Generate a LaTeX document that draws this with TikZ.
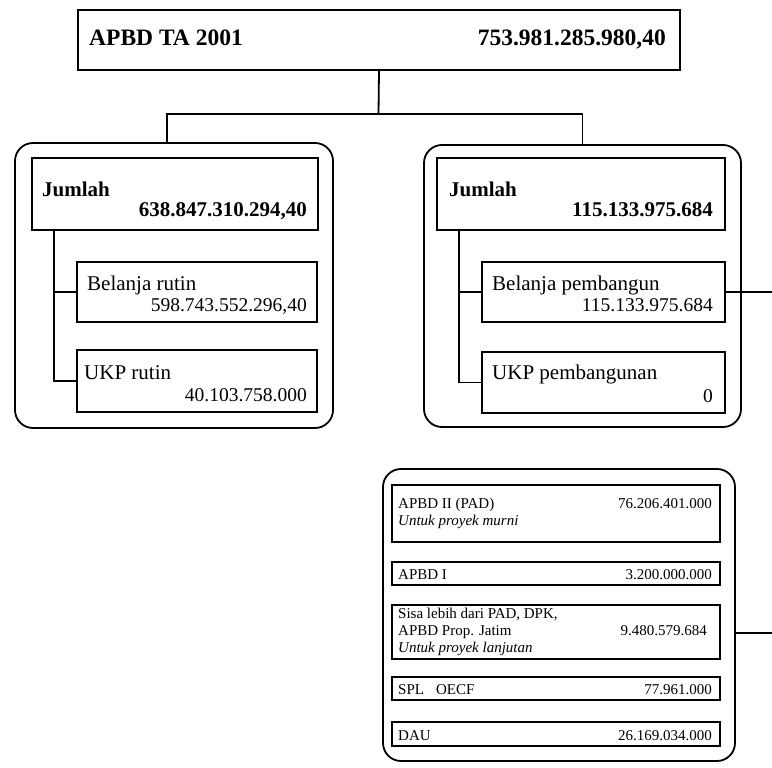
\documentclass[tikz,border=0pt]{standalone}
\usepackage{fontspec}
\setmainfont{Liberation Serif}
\usetikzlibrary{fit}

\begin{document}
\begin{tikzpicture}[
  x=1pt,y=-1pt,
  box/.style={draw,line width=1.8pt,inner sep=0pt},
  grp/.style={draw,line width=1.8pt,inner sep=0pt,rounded corners=18pt},
  wire/.style={line width=1.8pt},
  lbl/.style={anchor=base west,inner sep=0pt},
  val/.style={anchor=base east,inner sep=0pt},
  big/.style={font=\fontsize{23.5}{26}\selectfont\bfseries},
  sum/.style={font=\fontsize{21}{24}\selectfont\bfseries},
  txt/.style={font=\fontsize{21}{23}\selectfont},
  num/.style={font=\fontsize{19.5}{22}\selectfont},
  sml/.style={font=\fontsize{15}{16}\selectfont}
]
\useasboundingbox (0,0) rectangle (772,768);

\node[box,fit={(78,10) (680,70)}] (apbd) {};
\node[lbl,big] (apbdT) at (89,46) {APBD TA 2001};
\node[val,big] (apbdV) at (666,46) {753.981.285.980,40};

\coordinate (fork) at (378.5,114);
\draw[wire] (apbd.south) -- (fork);

% belanja rutin
\node[grp,fit={(15,143) (333,428)}] (lgrp) {};
\node[box,fit={(32,158) (318,230)}] (ljml) {};
\node[lbl,sum] (ljmlT) at (42,196) {Jumlah};
\node[val,sum] (ljmlV) at (307,216) {638.847.310.294,40};
\node[box,fit={(77,262) (317,322)}] (lrut) {};
\node[lbl,txt] (lrutT) at (87,290) {Belanja rutin};
\node[val,num] (lrutV) at (307,311) {598.743.552.296,40};
\node[box,fit={(77,350) (317,412)}] (lukp) {};
\node[lbl,txt] (lukpT) at (84,379) {UKP rutin};
\node[val,num] (lukpV) at (307,401) {40.103.758.000};
\draw[wire] ([xshift=23pt]ljml.south west) |- (lukp.west);
\draw[wire] (lrut.west) -| ([xshift=23pt]ljml.south west);

% belanja pembangunan
\node[grp,fit={(424,145) (741,427)}] (rgrp) {};
\node[box,fit={(437,158) (725,230)}] (rjml) {};
\node[lbl,sum] (rjmlT) at (449,196) {Jumlah};
\node[val,sum] (rjmlV) at (713,216) {115.133.975.684};
\node[box,fit={(482,262) (725,322)}] (rbel) {};
\node[lbl,txt] (rbelT) at (492,290) {Belanja pembangun};
\node[val,num] (rbelV) at (713,311) {115.133.975.684};
\node[box,fit={(482,352) (725,413)}] (rukp) {};
\node[lbl,txt] (rukpT) at (492,379) {UKP pembangunan};
\node[val,num] (rukpV) at (713,402) {0};
\draw[wire] ([xshift=23pt]rjml.south west) |- (rukp.west);
\draw[wire] (rbel.west) -| ([xshift=23pt]rjml.south west);

\draw[wire] (fork) -| ([xshift=-7pt]lgrp.north);
\draw[wire] (fork) -| (rgrp.north);

\coordinate (rout) at (772,292);
\draw[wire] (rbel.east) -- (rout);

% sumber dana
\node[grp,fit={(383,469) (735,761)}] (bgrp) {};
\node[box,fit={(392,485) (720,542)}] (pad) {};
\node[lbl,sml] (padT) at (398,508) {APBD II (PAD)};
\node[val,sml] (padV) at (712,508) {76.206.401.000};
\node[lbl,sml] (padS) at (398,525) {\itshape Untuk proyek murni};
\node[box,fit={(392,562) (720,585)}] (prov) {};
\node[lbl,sml] (provT) at (398,579) {APBD I};
\node[val,sml] (provV) at (712,579) {3.200.000.000};
\node[box,fit={(392,605) (720,659)}] (sisa) {};
\node[lbl,sml] (sisaT) at (398,618) {Sisa lebih dari PAD, DPK,};
\node[lbl,sml] (sisaU) at (398,635) {APBD Prop. Jatim};
\node[val,sml] (sisaV) at (707,635) {9.480.579.684};
\node[lbl,sml] (sisaS) at (398,652) {\itshape Untuk proyek lanjutan};
\node[box,fit={(392,677) (720,700)}] (spl) {};
\node[lbl,sml] (splT) at (398,694) {SPL\hspace{0.8em}OECF};
\node[val,sml] (splV) at (712,694) {77.961.000};
\node[box,fit={(392,722) (720,746)}] (dau) {};
\node[lbl,sml] (dauT) at (398,740) {DAU};
\node[val,sml] (dauV) at (712,740) {26.169.034.000};

\coordinate (bout) at (772,633);
\draw[wire] (bgrp.east |- bout) -- (bout);
\end{tikzpicture}
\end{document}
